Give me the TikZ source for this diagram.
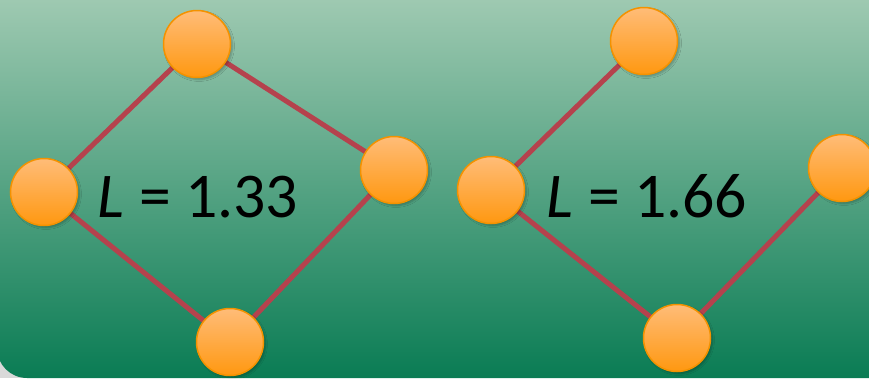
\documentclass[tikz,border=0pt]{standalone}
\usepackage{fontspec}
\setmainfont{Carlito}
\usepackage{tikz}
\usetikzlibrary{shadows.blur}
\definecolor{bgTop}{RGB}{158,201,177}
\definecolor{bgBottom}{RGB}{10,124,84}
\definecolor{vtxLight}{HTML}{FFBC78}
\definecolor{vtxDark}{HTML}{FF9810}
\definecolor{vtxRim}{HTML}{F39200}
\definecolor{edgeRed}{HTML}{B5424D}
\definecolor{cornerGray}{HTML}{D9D9D9}
\pgfdeclarelayer{bg}
\pgfdeclarelayer{edges}
\pgfsetlayers{bg,edges,main}

\begin{document}
\begin{tikzpicture}[
  x=1bp,y=-1bp,
  vertex/.style={circle,minimum size=67bp,inner sep=0pt,draw=vtxRim,line width=1.5bp,
    top color=vtxLight,bottom color=vtxDark,
    blur shadow={shadow xshift=2bp,shadow yshift=-2bp,shadow opacity=25,shadow blur steps=5}},
  link/.style={draw=edgeRed,line width=5bp},
  lenlabel/.style={font=\fontsize{64}{64}\selectfont,anchor=base,inner sep=0pt}
]
\useasboundingbox (0,0) rectangle (869,378);
% left graph
\node[vertex] (a1) at (197,44) {};
\node[vertex] (b1) at (44,192) {};
\node[vertex] (c1) at (394,170) {};
\node[vertex] (d1) at (230,342) {};
\node[lenlabel] (l1) at (198,217) {\textit{L} = 1.33};
% right graph
\node[vertex] (a2) at (644,41) {};
\node[vertex] (b2) at (491,190) {};
\node[vertex] (c2) at (842,168) {};
\node[vertex] (d2) at (677,338) {};
\node[lenlabel] (l2) at (647,217) {\textit{L} = 1.66};
\begin{pgfonlayer}{edges}
\draw[link] (a1.center)--(b1.center);
\draw[link] (a1.center)--(c1.center);
\draw[link] (b1.center)--(d1.center);
\draw[link] (c1.center)--(d1.center);
\draw[link] (a2.center)--(b2.center);
\draw[link] (b2.center)--(d2.center);
\draw[link] (d2.center)--(c2.center);
\end{pgfonlayer}
\begin{pgfonlayer}{bg}
\fill[cornerGray] (0,0) rectangle (869,378);
\shade[top color=bgTop,bottom color=bgBottom]
  (-3,0) -- (869,0) -- (869,378) -- (30,378)
  {[rounded corners=30bp] -- (-3,378) -- (-3,330)} -- cycle;
\end{pgfonlayer}
\end{tikzpicture}
\end{document}
